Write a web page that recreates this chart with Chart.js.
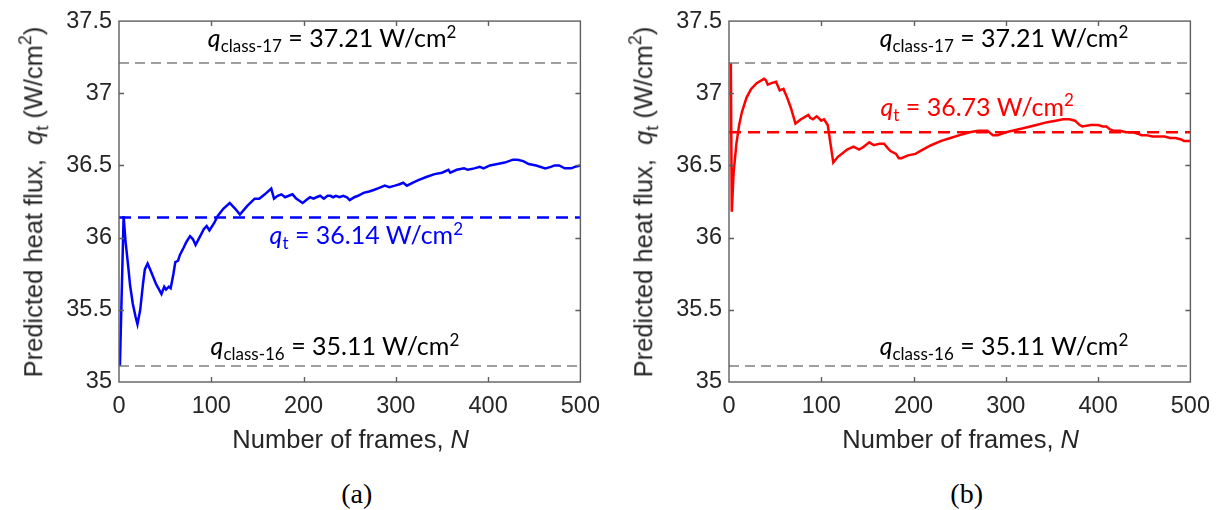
<!DOCTYPE html>
<html>
<head>
<meta charset="utf-8">
<script src="https://cdn.jsdelivr.net/npm/chart.js@4.4.1/dist/chart.umd.min.js"></script>
<style>
  html, body { margin:0; padding:0; background:#fff; }
  #wrap { position:relative; width:1220px; height:510px; background:#fff; overflow:hidden; }
  .panel { position:absolute; top:0; width:610px; height:460px; }
  .ann { position:absolute; white-space:nowrap; line-height:1; transform:translate(-50%,-50%);
         font-family:'Lato','Open Sans',sans-serif; font-size:25px; color:#000; }
  .ann i { font-style:italic; }
  .sub { font-size:0.68em; position:relative; top:0.3em; }
  .sup { font-size:0.68em; position:relative; top:-0.55em; }
  .ttl { position:absolute; white-space:nowrap; line-height:1; font-family:'Liberation Sans',Arial,sans-serif;
         font-size:25.5px; color:#262626; }
  .ttl .sub { font-size:0.7em; top:0.35em; }
  .ttl .sup { font-size:0.7em; top:-0.6em; }
  .xt { transform:translate(-50%,-50%); }
  .yt { transform:translate(-50%,-50%) rotate(-90deg); }
  .cap { position:absolute; font-family:'Liberation Serif','Times New Roman',serif; font-size:28px; color:#000;
         transform:translate(-50%,-50%); line-height:1; }
</style>
</head>
<body>
<div id="wrap">
  <div class="panel" style="left:0"><canvas id="ca" width="610" height="460"></canvas></div>
  <div class="panel" style="left:610px"><canvas id="cb" width="610" height="460"></canvas></div>
</div>
<script>
// ---------- data ----------
const xTicks = [0, 100, 200, 300, 400, 500];
const yTicks = [35, 35.5, 36, 36.5, 37, 37.5];
const qClass16 = 35.11;
const qClass17 = 37.21;
const meanA = 36.14;
const meanB = 36.73;

const framesA = [1,5,7,10,12,15,18,20,23,26,28,31,35,40,46,49,51,54,56,59,61,64,66,70,73,77,80,83,88,92,95,98,103,107,113,120,126,131,139,147,152,158,165,168,172,176,180,184,188,192,199,203,207,211,214,218,222,226,229,232,235,239,243,247,250,255,259,265,271,276,280,284,288,293,299,304,308,312,318,325,333,342,350,357,359,366,374,378,385,391,395,402,410,418,427,432,438,444,452,462,468,472,477,483,490,494,500];
const fluxA = [35.11,36.15,35.98,35.80,35.67,35.54,35.45,35.40,35.50,35.68,35.78,35.82,35.76,35.68,35.61,35.66,35.64,35.66,35.65,35.75,35.83,35.84,35.88,35.93,35.97,36.01,35.99,35.95,36.01,36.06,36.08,36.05,36.10,36.15,36.20,36.24,36.20,36.16,36.22,36.27,36.27,36.30,36.34,36.27,36.29,36.30,36.28,36.29,36.30,36.27,36.24,36.26,36.28,36.27,36.28,36.29,36.27,36.29,36.29,36.28,36.29,36.28,36.29,36.28,36.26,36.28,36.29,36.31,36.32,36.33,36.34,36.35,36.36,36.35,36.36,36.37,36.38,36.36,36.38,36.40,36.42,36.44,36.45,36.47,36.45,36.47,36.48,36.47,36.48,36.49,36.48,36.50,36.51,36.52,36.54,36.54,36.53,36.51,36.50,36.48,36.49,36.50,36.50,36.48,36.48,36.49,36.50];

const framesB = [2,3,5,8,11,14,19,24,30,38,40,42,46,51,55,59,63,67,72,78,86,88,91,95,97,100,103,107,110,113,118,122,128,135,141,146,152,157,163,168,172,175,181,184,187,194,202,210,219,230,240,250,261,270,276,280,286,291,300,307,320,333,345,354,362,369,375,380,383,392,400,405,409,413,417,424,430,438,443,447,452,459,465,472,478,484,490,493,500];
const fluxB = [37.21,36.18,36.45,36.65,36.78,36.87,36.97,37.03,37.07,37.10,37.09,37.06,37.07,37.08,37.02,37.03,36.97,36.90,36.79,36.82,36.85,36.83,36.82,36.84,36.83,36.81,36.82,36.78,36.65,36.52,36.56,36.58,36.61,36.63,36.61,36.63,36.66,36.64,36.65,36.65,36.62,36.60,36.58,36.55,36.55,36.57,36.58,36.61,36.64,36.67,36.69,36.71,36.73,36.74,36.74,36.74,36.71,36.71,36.73,36.74,36.76,36.78,36.80,36.81,36.82,36.82,36.81,36.78,36.77,36.78,36.78,36.77,36.77,36.75,36.74,36.74,36.73,36.73,36.72,36.71,36.71,36.70,36.70,36.70,36.69,36.69,36.68,36.67,36.67];

// ---------- helpers ----------
const TXT = '#262626';
const AX = '#5e5e5e';
function pts(xs, ys) { return xs.map((x, i) => ({ x: x, y: ys[i] })); }
function hline(v) { return [{ x: xTicks[0], y: v }, { x: xTicks[xTicks.length - 1], y: v }]; }

const framePlugin = {
  id: 'frame',
  afterDatasetsDraw(chart) {
    const { ctx, chartArea: a, scales } = chart;
    ctx.save();
    ctx.strokeStyle = AX;
    ctx.lineWidth = 1.4;
    ctx.strokeRect(a.left, a.top, a.right - a.left, a.bottom - a.top);
    const L = 5;
    ctx.beginPath();
    xTicks.slice(1, -1).forEach(v => {
      const p = Math.round(scales.x.getPixelForValue(v)) + 0.5;
      ctx.moveTo(p, a.bottom); ctx.lineTo(p, a.bottom - L);
      ctx.moveTo(p, a.top); ctx.lineTo(p, a.top + L);
    });
    yTicks.slice(1, -1).forEach(v => {
      const p = Math.round(scales.y.getPixelForValue(v)) + 0.5;
      ctx.moveTo(a.left, p); ctx.lineTo(a.left + L, p);
      ctx.moveTo(a.right, p); ctx.lineTo(a.right - L, p);
    });
    ctx.stroke();
    ctx.restore();
  }
};

const tickFont = { family: "'Liberation Sans', Arial, sans-serif", size: 23.5 };

function makeChart(id, frames, flux, mean, color) {
  return new Chart(document.getElementById(id), {
    type: 'line',
    data: {
      datasets: [
        { data: hline(qClass17), borderColor: '#808080', borderWidth: 1.5, borderDash: [10, 6], pointRadius: 0 },
        { data: hline(qClass16), borderColor: '#808080', borderWidth: 1.5, borderDash: [10, 6], pointRadius: 0 },
        { data: hline(mean), borderColor: color, borderWidth: 2.5, borderDash: [12, 7], pointRadius: 0 },
        { data: pts(frames, flux), borderColor: color, borderWidth: 2.5, pointRadius: 0, tension: 0 }
      ]
    },
    options: {
      responsive: false,
      devicePixelRatio: 1,
      animation: false,
      events: [],
      layout: { padding: { left: 0, right: 28, top: 15, bottom: 0 } },
      plugins: { legend: { display: false }, tooltip: { enabled: false } },
      scales: {
        x: {
          type: 'linear', min: xTicks[0], max: xTicks[xTicks.length - 1],
          afterBuildTicks: s => { s.ticks = xTicks.map(v => ({ value: v })); },
          afterFit: s => { s.height = 78; },
          grid: { display: false, drawTicks: false },
          border: { display: false },
          ticks: { color: TXT, font: tickFont, padding: 10, maxRotation: 0, autoSkip: false, callback: v => String(v) }
        },
        y: {
          type: 'linear', min: yTicks[0], max: yTicks[yTicks.length - 1],
          afterBuildTicks: s => { s.ticks = yTicks.map(v => ({ value: v })); },
          afterFit: s => { s.width = 119; },
          grid: { display: false, drawTicks: false },
          border: { display: false },
          ticks: { color: TXT, font: tickFont, padding: 7, autoSkip: false, callback: v => String(v) }
        }
      }
    },
    plugins: [framePlugin]
  });
}

const chartA = makeChart('ca', framesA, fluxA, meanA, '#0000ff');
const chartB = makeChart('cb', framesB, fluxB, meanB, '#ff0000');

// ---------- text overlays (positioned through the chart scales) ----------
const wrap = document.getElementById('wrap');
function addEl(cls, html, color) {
  const el = document.createElement('div');
  el.className = cls; el.innerHTML = html;
  if (color) el.style.color = color;
  wrap.appendChild(el);
  return el;
}
function placeData(el, chart, off, xv, yv) {
  el.style.left = (off + chart.scales.x.getPixelForValue(xv)) + 'px';
  el.style.top = chart.scales.y.getPixelForValue(yv) + 'px';
}
const fmt = v => v.toFixed(2);
function classLabel(n, v) { return '<i>q</i><span class="sub">class-' + n + '</span> = ' + fmt(v) + ' W/cm<span class="sup">2</span>'; }
function meanLabel(v) { return '<i>q</i><span class="sub">t</span> = ' + fmt(v) + ' W/cm<span class="sup">2</span>'; }

function decorate(chart, off, mean, color, pos, cap) {
  placeData(addEl('ann', classLabel(17, qClass17)), chart, off, pos.c17[0], pos.c17[1]);
  placeData(addEl('ann', classLabel(16, qClass16)), chart, off, pos.c16[0], pos.c16[1]);
  placeData(addEl('ann', meanLabel(mean), color), chart, off, pos.m[0], pos.m[1]);
  const a = chart.chartArea;
  const xt = addEl('ttl xt', 'Number of frames, <i>N</i>');
  xt.style.left = (off + (a.left + a.right) / 2 + 1) + 'px';
  xt.style.top = (a.bottom + 58) + 'px';
  const yt = addEl('ttl yt', 'Predicted heat flux, &nbsp;<i>q</i><span class="sub">t</span> (W/cm<span class="sup">2</span>)');
  yt.style.left = (off + 34) + 'px';
  yt.style.top = ((a.top + a.bottom) / 2) + 'px';
  const c = addEl('cap', cap);
  c.style.left = (off + (a.left + a.right) / 2 + 7) + 'px';
  c.style.top = '494px';
}
decorate(chartA, 0, meanA, '#0000ff', { c17: [231, 37.39], c16: [234, 35.255], m: [268, 36.025] }, '(a)');
decorate(chartB, 610, meanB, '#ff0000', { c17: [298, 37.39], c16: [298, 35.255], m: [269, 36.914] }, '(b)');
</script>
</body>
</html>
